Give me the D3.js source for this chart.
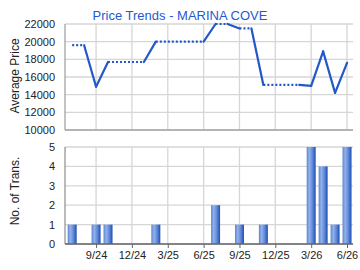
<!DOCTYPE html>
<html>
<head>
<meta charset="utf-8">
<script src="https://cdn.jsdelivr.net/npm/d3@7"></script>
<style>
  body { margin: 0; background: #fff; }
  svg { display: block; font-family: "Liberation Sans", Arial, sans-serif; }
</style>
</head>
<body>
<div id="container"></div>
<script>
// month labels, one per month from 7/24 to 6/26
const months = ['7/24','8/24','9/24','10/24','11/24','12/24','1/25','2/25','3/25','4/25','5/25','6/25',
                '7/25','8/25','9/25','10/25','11/25','12/25','1/26','2/26','3/26','4/26','5/26','6/26'];
// average price, null where no transactions that month
const prices = [19600, null, 14900, 17700, null, null, null, 20000, null, null, null, null,
                22000, null, 21500, null, 15100, null, null, null, 15000, 18900, 14200, 17600];
// number of transactions per month
const counts = [1, 0, 1, 1, 0, 0, 0, 1, 0, 0, 0, 0,
                2, 0, 1, 0, 1, 0, 0, 0, 5, 4, 1, 5];
const xTickLabels = ['9/24','12/24','3/25','6/25','9/25','12/25','3/26','6/26'];
const priceTicks = [10000, 12000, 14000, 16000, 18000, 20000, 22000];
const countTicks = [0, 1, 2, 3, 4, 5];

const width = 360, height = 270;
const left = 65, right = 353;
const font = '"Liberation Sans", Arial, sans-serif';

const svg = d3.select('#container')
    .append('svg')
    .attr('width', width)
    .attr('height', height);

const defs = svg.append('defs');
const grad = defs.append('linearGradient').attr('id', 'barGrad')
    .attr('x1', '0%').attr('x2', '100%').attr('y1', '0%').attr('y2', '0%');
grad.append('stop').attr('offset', '0%').attr('stop-color', '#5a84d4');
grad.append('stop').attr('offset', '30%').attr('stop-color', '#93b2ea');
grad.append('stop').attr('offset', '65%').attr('stop-color', '#5f88d8');
grad.append('stop').attr('offset', '100%').attr('stop-color', '#1c4db4');

var xScale = d3.scaleLinear().domain([-0.6, 23.5]).range([left, right]);
var yPrice = d3.scaleLinear().domain([10000, 22000]).range([130, 24]);
var yCount = d3.scaleLinear().domain([0, 5]).range([244, 147]);

const tickIdx = xTickLabels.map(l => months.indexOf(l));

function grid(yScale, ticks, top, bottom) {
    const g = svg.append('g').attr('class', 'grid');
    g.selectAll('.h').data(ticks).enter().append('line')
        .attr('x1', left).attr('x2', right)
        .attr('y1', d => yScale(d)).attr('y2', d => yScale(d))
        .attr('stroke', '#d6d6d6').attr('stroke-width', 1.3);
    g.selectAll('.v').data(tickIdx).enter().append('line')
        .attr('x1', d => xScale(d)).attr('x2', d => xScale(d))
        .attr('y1', top).attr('y2', bottom)
        .attr('stroke', '#d6d6d6').attr('stroke-width', 1.3);
}
grid(yPrice, priceTicks, 24, 130);
grid(yCount, countTicks, 147, 244);

// price panel axes
var yAxisP = d3.axisLeft(yPrice).tickValues(priceTicks).tickSize(0).tickPadding(10).tickFormat(d3.format('d'));
svg.append('g').attr('transform', 'translate(' + left + ',0)').call(yAxisP)
    .attr('font-family', font).attr('font-size', 11)
    .call(g => g.select('.domain').remove())
    .selectAll('text').attr('fill', '#222');
svg.append('line').attr('x1', left).attr('x2', left).attr('y1', 24).attr('y2', 130)
    .attr('stroke', '#888');
svg.append('line').attr('x1', left).attr('x2', right).attr('y1', 130).attr('y2', 130)
    .attr('stroke', '#888');

// count panel axes
var yAxisC = d3.axisLeft(yCount).tickValues(countTicks).tickSize(0).tickPadding(10).tickFormat(d3.format('d'));
svg.append('g').attr('transform', 'translate(' + left + ',0)').call(yAxisC)
    .attr('font-family', font).attr('font-size', 11)
    .call(g => g.select('.domain').remove())
    .selectAll('text').attr('fill', '#222');

// bars
svg.selectAll('.bar')
    .data(counts.map((c, i) => ({ i: i, c: c })).filter(d => d.c > 0))
    .enter()
    .append('rect')
    .attr('class', 'bar')
    .attr('x', d => xScale(d.i) - 4.5)
    .attr('width', 9)
    .attr('y', d => yCount(d.c))
    .attr('height', d => yCount(0) - yCount(d.c))
    .style('fill', 'url(#barGrad)');

svg.append('line').attr('x1', left).attr('x2', left).attr('y1', 147).attr('y2', 244)
    .attr('stroke', '#777');
var xAxis = d3.axisBottom(xScale).tickValues(tickIdx).tickSize(4).tickPadding(3)
    .tickFormat((d, i) => xTickLabels[i]);
svg.append('g').attr('transform', 'translate(0,244)').call(xAxis)
    .attr('font-family', font).attr('font-size', 11)
    .call(g => g.select('.domain').attr('d', 'M' + left + ',0H' + right).attr('stroke', '#666').attr('stroke-width', 1.6))
    .call(g => g.selectAll('.tick line').attr('stroke', '#666'))
    .selectAll('text').attr('fill', '#222');

// price line: dotted carry-forward, solid step into next data month
const pts = prices.map((p, i) => ({ i: i, p: p })).filter(d => d.p !== null);
const solid = [], dotted = [];
for (let k = 1; k < pts.length; k++) {
    const a = pts[k - 1], b = pts[k];
    if (b.i - a.i > 1) {
        dotted.push([[a.i, a.p], [b.i - 1, a.p]]);
        solid.push([[b.i - 1, a.p], [b.i, b.p]]);
    } else {
        solid.push([[a.i, a.p], [b.i, b.p]]);
    }
}
var line = d3.line().x(d => xScale(d[0])).y(d => yPrice(d[1]));
svg.selectAll('.solid').data(solid).enter().append('path')
    .attr('d', line).attr('fill', 'none')
    .attr('stroke', '#2358c8').attr('stroke-width', 2.2).attr('stroke-linecap', 'round');
svg.selectAll('.dotted').data(dotted).enter().append('path')
    .attr('d', line).attr('fill', 'none')
    .attr('stroke', '#2358c8').attr('stroke-width', 2.2).attr('stroke-dasharray', '2,2');

// titles
svg.append('text').attr('x', 180).attr('y', 20).attr('text-anchor', 'middle')
    .style('font-size', '13px').attr('fill', '#1f5ad0').text('Price Trends - MARINA COVE');
svg.append('text').attr('transform', 'translate(19,76) rotate(-90)').attr('text-anchor', 'middle')
    .style('font-size', '12px').attr('fill', '#222').text('Average Price');
svg.append('text').attr('transform', 'translate(19,191) rotate(-90)').attr('text-anchor', 'middle')
    .style('font-size', '12px').attr('fill', '#222').text('No. of Trans.');
</script>
</body>
</html>
